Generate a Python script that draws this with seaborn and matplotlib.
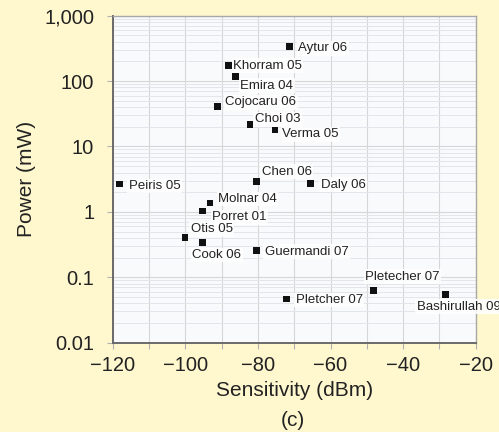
import matplotlib
matplotlib.use("Agg")
import matplotlib.pyplot as plt
import seaborn as sns
import pandas as pd
from matplotlib.ticker import MultipleLocator, LogLocator, FixedLocator, FixedFormatter, NullFormatter

# ---- data ----
names = ["Aytur 06", "Khorram 05", "Emira 04", "Cojocaru 06", "Choi 03", "Verma 05",
         "Chen 06", "Daly 06", "Peiris 05", "Molnar 04", "Porret 01", "Otis 05",
         "Cook 06", "Guermandi 07", "Pletcher 07", "Pletecher 07", "Bashirullah 09"]
sensitivity = [-71.4, -88.1, -86.2, -91.2, -82.2, -75.3,
               -80.3, -65.4, -118.2, -93.2, -95.3, -100.1,
               -95.3, -80.3, -72.1, -48.2, -28.3]
power = [340, 172, 117, 40.6, 21.8, 17.9,
         2.9, 2.7, 2.67, 1.37, 1.03, 0.41,
         0.34, 0.255, 0.0466, 0.0624, 0.055]
x_ticks = [-120, -100, -80, -60, -40, -20]
y_ticks = [0.01, 0.1, 1, 10, 100, 1000]
y_ticklabels = ["0.01", "0.1", "1", "10", "100", "1,000"]

df = pd.DataFrame({"Sensitivity": sensitivity, "Power": power, "Name": names})

# label offsets in pixels (dx, dy) - styling
offsets = {
    "Aytur 06": (9, -2), "Khorram 05": (4.5, 0), "Emira 04": (5, -9),
    "Cojocaru 06": (8, 4.5), "Choi 03": (5, 5), "Verma 05": (7, -4.5),
    "Chen 06": (5, 10), "Daly 06": (10, -1), "Peiris 05": (9.5, -2),
    "Molnar 04": (8, 4), "Porret 01": (10, -6), "Otis 05": (6, 8),
    "Cook 06": (-10, -12.5), "Guermandi 07": (8, -1), "Pletcher 07": (9, -1),
    "Pletecher 07": (-8, 14), "Bashirullah 09": (-29, -12.5),
}

sns.set_style("white")
plt.rcParams["font.family"] = ["Liberation Sans", "DejaVu Sans"]

bg = "#FFF7CE"
fig = plt.figure(figsize=(4.99, 4.32), dpi=100, facecolor=bg)
ax = fig.add_axes([112.7 / 499, 1 - 342.7 / 432, (475.7 - 112.7) / 499, (342.7 - 15.7) / 432])
ax.set_facecolor("#F9FAFC")

sns.scatterplot(data=df, x="Sensitivity", y="Power", marker="s", s=24,
                color="#111111", edgecolor="none", ax=ax, zorder=3, legend=False)

ax.set_yscale("log")
ax.set_xlim(-120, -20)
ax.set_ylim(0.01, 1000)

ax.xaxis.set_major_locator(FixedLocator(x_ticks))
ax.xaxis.set_minor_locator(MultipleLocator(10))
ax.set_xticklabels([str(v).replace("-", "\u2212") for v in x_ticks])
ax.yaxis.set_major_locator(FixedLocator(y_ticks))
ax.yaxis.set_major_formatter(FixedFormatter(y_ticklabels))
ax.yaxis.set_minor_locator(LogLocator(base=10, subs=range(2, 10), numticks=20))
ax.yaxis.set_minor_formatter(NullFormatter())

ax.grid(True, which="major", axis="both", color="#d6d6d6", lw=0.8, zorder=0)
ax.grid(True, which="minor", axis="x", color="#d6d6d6", lw=0.8, zorder=0)
ax.grid(True, which="minor", axis="y", color="#e3e5ea", lw=0.7, zorder=0)
ax.set_axisbelow(True)

ax.tick_params(axis="both", which="major", labelsize=14.5, color="#b0b0b0",
               length=4.3, width=0.8, labelcolor="#222222", direction="out")
ax.tick_params(axis="x", which="major", pad=5.5, bottom=True)
ax.tick_params(axis="y", which="major", pad=9, left=True)
ax.tick_params(axis="x", which="minor", bottom=True, length=4.3, width=0.8, color="#b0b0b0")
ax.tick_params(axis="y", which="minor", left=False)

for side in ["left", "bottom"]:
    ax.spines[side].set_color("#6a6a6a")
    ax.spines[side].set_linewidth(1.4)
for side in ["top", "right"]:
    ax.spines[side].set_color("#a8a8a8")
    ax.spines[side].set_linewidth(1.0)

ax.set_xlabel("Sensitivity (dBm)", fontsize=15, color="#222222", labelpad=4)
ax.set_ylabel("Power (mW)", fontsize=15, color="#222222", labelpad=6)

for n, x, y in zip(names, sensitivity, power):
    dx, dy = offsets[n]
    ax.annotate(n, (x, y), xytext=(dx, dy), textcoords="offset pixels",
                ha="left", va="center", fontsize=9.5, color="#222222",
                bbox=dict(fc="white", ec="none", pad=1.0, alpha=0.85),
                annotation_clip=False, zorder=4)

fig.text(293 / 499, 1 - 420 / 432, "(c)", ha="center", va="center",
         fontsize=15, color="#222222")

fig.savefig("out.png", dpi=100, facecolor=bg)
